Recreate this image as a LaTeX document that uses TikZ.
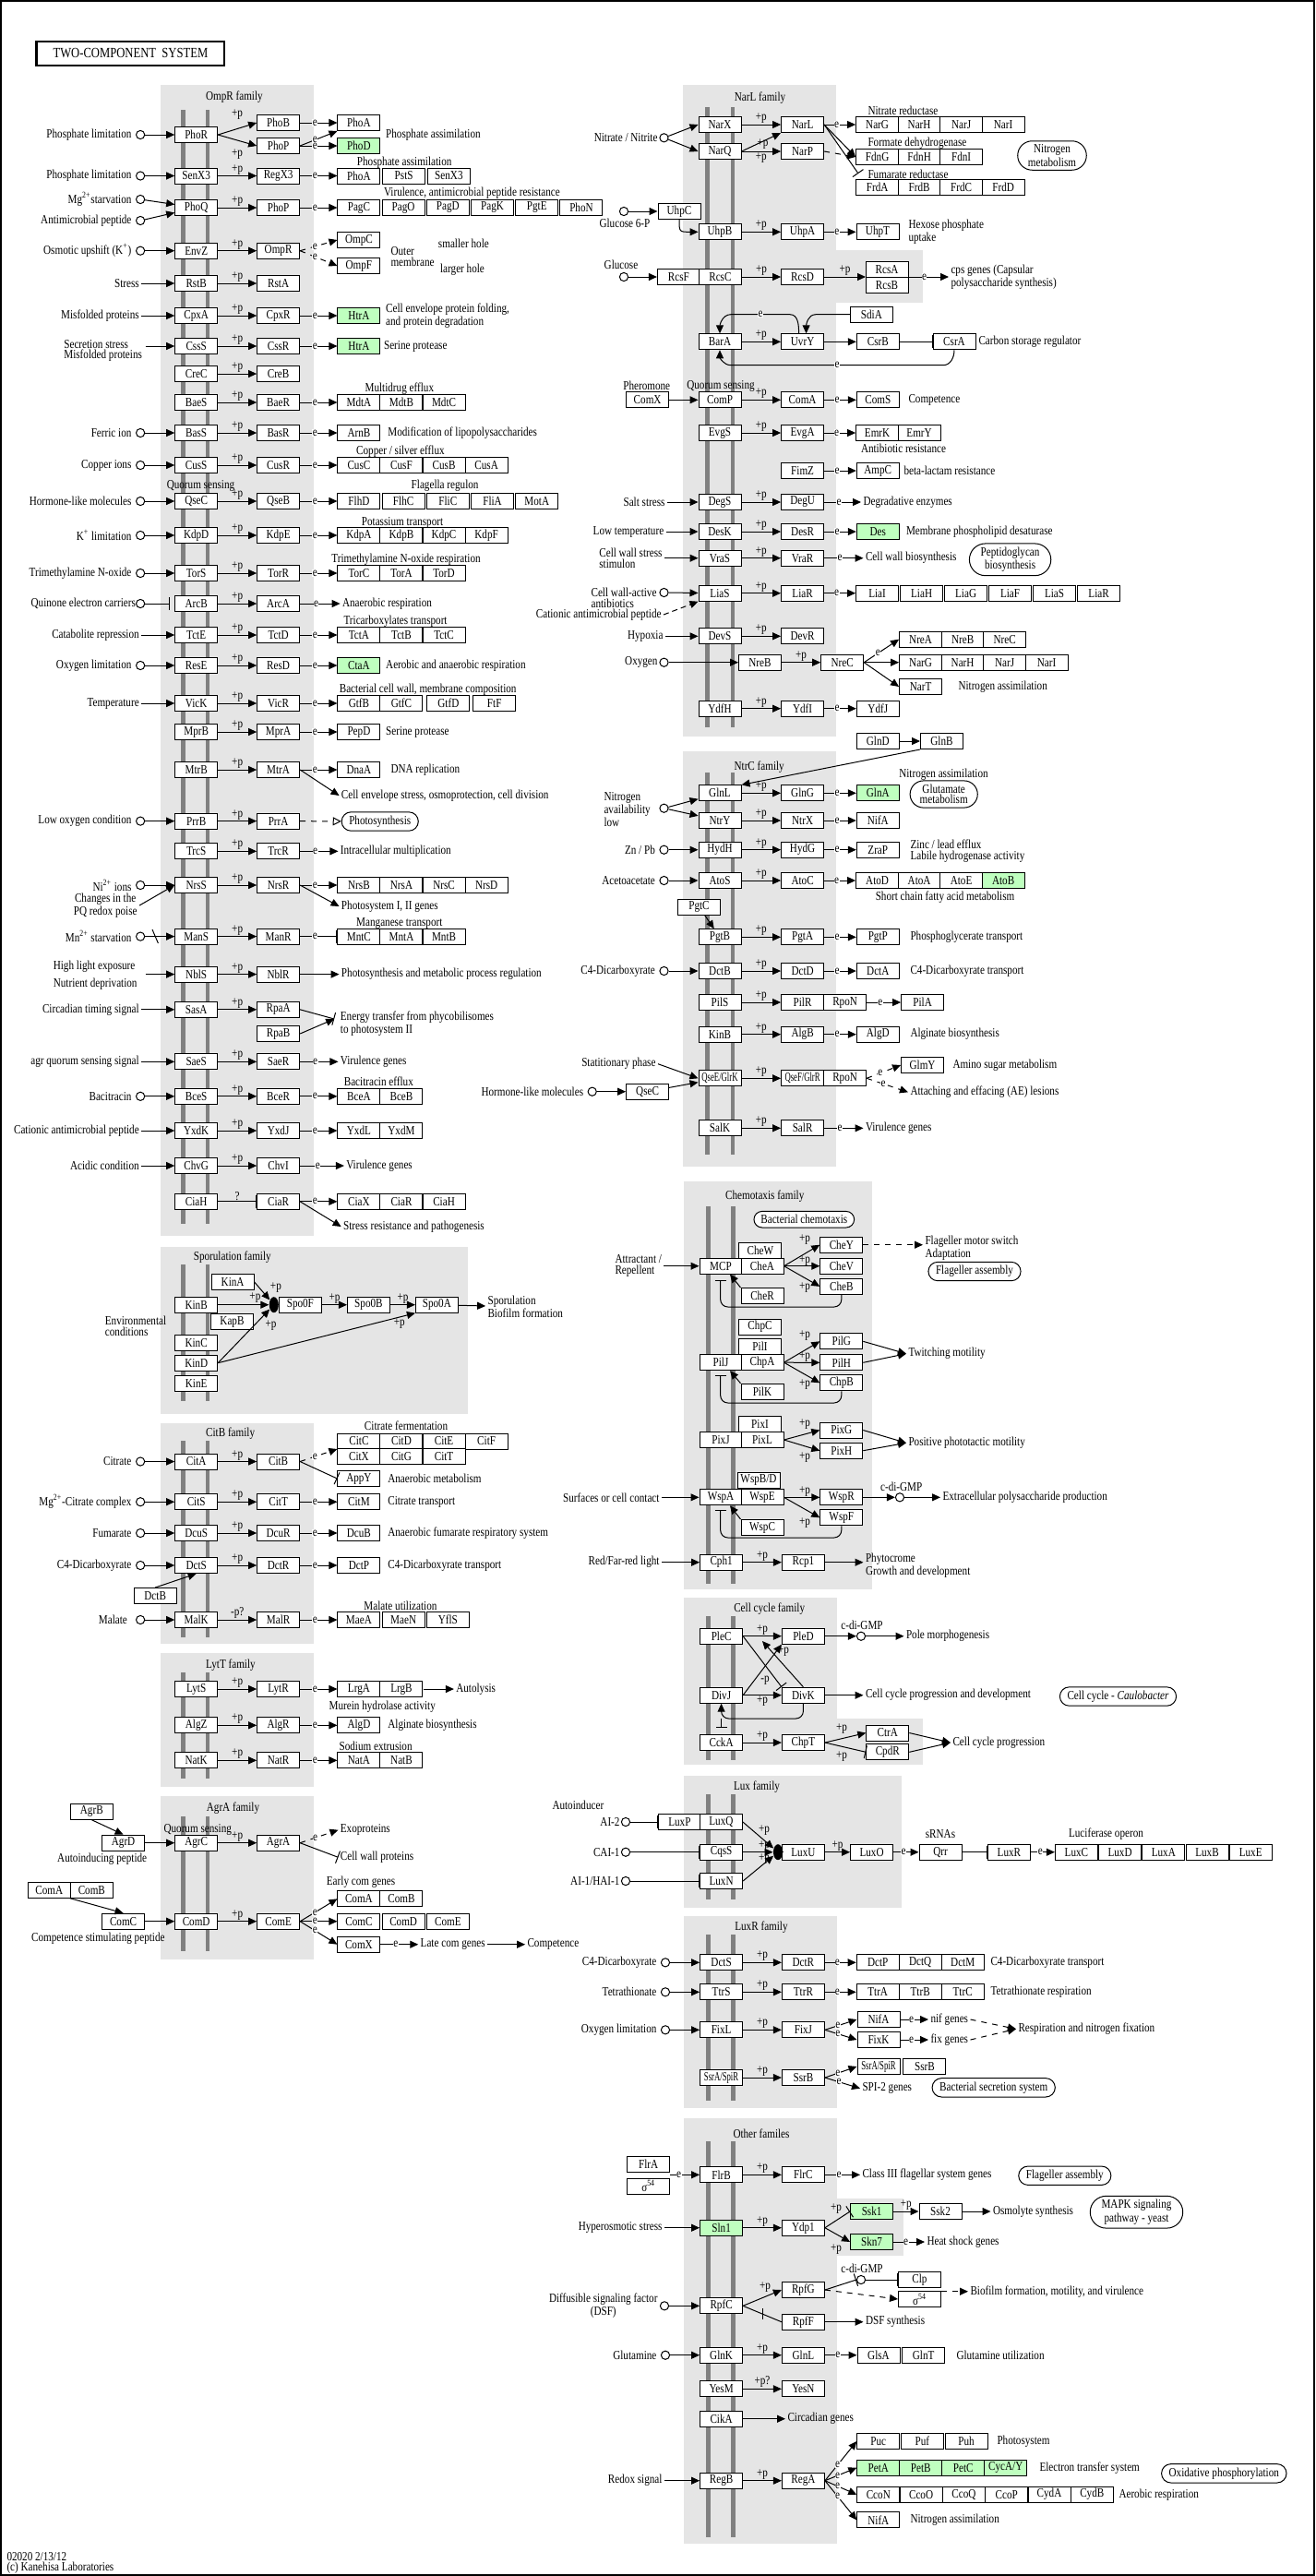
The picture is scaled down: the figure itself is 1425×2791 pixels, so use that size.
\documentclass[tikz,border=0pt]{standalone}
\usepackage{fontspec}
\setmainfont{Liberation Serif}
\newfontfamily\kf[FakeStretch=0.82]{Liberation Serif}
\usetikzlibrary{arrows.meta,shapes.misc,shapes.geometric}
\definecolor{kgreen}{HTML}{BFFFBF}
\definecolor{kpanel}{HTML}{E5E5E5}
\definecolor{kbar}{HTML}{808080}
\newcommand\gf{\kf\fontsize{6.8}{5.8}\selectfont}
\newcommand\cf[1]{\scalebox{0.78}[1]{#1}}
\newcommand\B[4][gene]{\node[#1] (#2) at (#3) {#4};}
\newcommand\GR[6][gene]{\foreach \g [count=\i] in {#6} {\node[#1] (#2\i) at ({#3+22+(\i-1)*#5},#4) {\g};}}
\newcommand\Ep[2]{\draw[act] (#1) -- node[pl]{+p} (#2);}
\newcommand\Ee[2]{\draw[act] (#1) -- node[el]{e} (#2);}
\newcommand\SC[5]{\node[sig] (#1) at (#2,#3) {};\node[lbl,anchor=east] (#1t) at ([xshift=-1pt]#1.west) {#4};\draw[act] (#1) -- (#5);}
\newcommand\ST[5]{\node[lbl,anchor=east] (#1) at (#2,#3) {#4};\draw[act] (#1) -- (#5);}
\newcommand\LT[4][west]{\node[lbl,anchor=#1] (#2) at (#3) {#4};}
\newcounter{pc}
\newcommand\PL[2][+p]{\stepcounter{pc}\node[plx] (pl\thepc) at (#2) {#1};}
\newcommand\bars[4]{\fill[kbar] (#1-2.25,#3) rectangle (#1+2.25,#4);\fill[kbar] (#2-2.25,#3) rectangle (#2+2.25,#4);}
\begin{document}
\begin{tikzpicture}[x=0.5pt,y=-0.5pt,line width=0.5pt,
 gene/.style={draw,fill=white,minimum width=23pt,minimum height=8.5pt,inner sep=0pt,font=\gf},
 grn/.style={gene,fill=kgreen},
 sig/.style={circle,draw,fill=white,minimum size=4.6pt,inner sep=0pt},
 lbl/.style={inner sep=1pt,font=\gf,align=left},
 mapbox/.style={draw,rounded rectangle,fill=white,font=\gf,align=center,inner xsep=3pt,inner ysep=2pt},
 act/.style={-{Triangle[length=4.5pt,width=4pt]}},
 inh/.style={-{Bar[width=7pt]}},
 pl/.style={font=\gf,inner sep=0.5pt,above},
 plx/.style={font=\gf,inner sep=0pt},
 el/.style={font=\gf,fill=white,inner sep=0.2pt,pos=0.4},
 jn/.style={ellipse,fill=black,minimum width=5pt,minimum height=8.5pt,inner sep=0pt}]
\useasboundingbox (0,0) rectangle (1425,2791);
\fill[white] (0,0) rectangle (1425,2791);
\draw[line width=1.2pt] (1,1) rectangle (1424,2790);
% ---------- right panels ----------
\fill[kpanel] (740,92) rectangle (906,798);
\fill[kpanel] (905,271) rectangle (1000,328);
\fill[kpanel] (740,814) rectangle (906,1263.7);
\fill[kpanel] (741,1280) rectangle (944.7,1722.3);
\fill[kpanel] (741,1731) rectangle (906.6,1911.7);
\fill[kpanel] (905,1862.3) rectangle (1000.4,1911.7);
\fill[kpanel] (741,1924) rectangle (976.7,2066.7);
\fill[kpanel] (741,2075.7) rectangle (906.6,2284.3);
\fill[kpanel] (741,2295) rectangle (906.6,2755.7);
\fill[kpanel] (905,2382.3) rectangle (979.4,2444);
\bars{766.4}{794}{116}{788}
\bars{766.4}{794}{837}{1250.7}
\bars{767.5}{794.5}{1307}{1715.7}
\bars{767.5}{794.5}{1751}{1906.7}
\bars{767.5}{794.5}{1944.3}{2058.3}
\bars{767.5}{794.5}{2096}{2276}
\bars{767.5}{794.5}{2320}{2749}
\LT[center]{f6}{823.5,106}{NarL family}
\LT[center]{f7}{822.7,831}{NtrC family}
\LT[center]{f8}{828.8,1295.7}{Chemotaxis family}
\LT[center]{f9}{833.7,1742.7}{Cell cycle family}
\LT[center]{f10}{820,1935.7}{Lux family}
\LT[center]{f11}{825,2087.7}{LuxR family}
\LT[center]{f12}{825,2312}{Other familes}
\LT{l49}{569,2106.7}{Competence}
% =================== LEFT COLUMN ===================
\begin{scope}[xscale=1.0714]
\fill[kpanel] (162,92) rectangle (317,1339);
\fill[kpanel] (162,1351) rectangle (473,1531.5);
\fill[kpanel] (162,1541.8) rectangle (317,1780.7);
\fill[kpanel] (162,1791) rectangle (317,1936);
\fill[kpanel] (162,1945.7) rectangle (317,2123.3);
\bars{185.3}{210}{119}{1326}
\bars{185.3}{210}{1370.3}{1518}
\bars{185.3}{210}{1560.8}{1774.3}
\bars{185.3}{210}{1812.3}{1926.7}
\bars{185.3}{210}{1968.3}{2114.3}
\LT[center]{f1}{237,105.5}{OmpR family}
\LT[center]{f2}{235,1362}{Sporulation family}
\LT[center]{f3}{233,1552.9}{CitB family}
\LT[center]{f4}{233.3,1804}{LytT family}
\LT[center]{f5}{235.7,1959}{AgrA family}
\node[draw,line width=1.2pt,minimum width=101.8pt,minimum height=13pt,inner sep=0pt,font={\kf\fontsize{7.7}{8}\selectfont}] (title) at (132,58) {TWO-COMPONENT\ \ SYSTEM};
% ---------- OmpR family ----------
\B{phor}{198.5,146}{PhoR}\B{phob}{281.5,133}{PhoB}\B{phop}{281.5,158}{PhoP}
\draw[act] (phor.east) -- (phob.west);\draw[act] (phor.east) -- (phop.west);
\PL{240,124}\PL{240,167}
\B{phoa}{363,133}{PhoA}\B[grn]{phod}{363,158}{PhoD}
\Ee{phob}{phoa}\draw[act] (phop.east) -- node[el]{e} (phoa.south west);\Ee{phop}{phod}
\LT{l1}{388,146}{Phosphate assimilation}
\SC{c1}{142}{146}{Phosphate limitation}{phor}
\B{senx3}{198.5,190.5}{SenX3}\B{regx3}{281.5,190.5}{RegX3}\Ep{senx3}{regx3}
\GR{ga}{341}{190.5}{45.5}{PhoA,PstS,SenX3}\Ee{regx3}{ga1}
\LT[center]{l2}{409,176}{Phosphate assimilation}
\SC{c2}{142}{190.5}{Phosphate limitation}{senx3}
\B{phoq}{198.5,225}{PhoQ}\B{phop2}{281.5,225}{PhoP}\Ep{phoq}{phop2}
\GR{gb}{341}{225}{45}{PagC,PagO,PagD,PagK,PgtE,PhoN}\Ee{phop2}{gb1}
\LT{l3}{386,209.5}{Virulence, antimicrobial peptide resistance}
\SC{c3}{142}{216}{Mg\textsuperscript{2+}starvation}{phoq}
\SC{c4}{142}{239}{Antimicrobial peptide}{phoq}
\B{envz}{198.5,271.7}{EnvZ}\B{ompr}{281.5,271.7}{OmpR}\Ep{envz}{ompr}
\B{ompc}{363,260}{OmpC}\B{ompf}{363,288}{OmpF}
\draw[act,dashed] (ompr.east) -- node[el]{e} (ompc.west);
\draw[act,dashed] (ompr.east) -- node[el]{e} (ompf.west);
\LT{l4}{393,278}{Outer\\membrane}\LT{l5}{441,264}{smaller hole}\LT{l6}{443,292}{larger hole}
\SC{c5}{142}{271.7}{Osmotic upshift (K\textsuperscript{+})}{envz}
\B{rstb}{198.5,307}{RstB}\B{rsta}{281.5,307}{RstA}\Ep{rstb}{rsta}
\ST{s1}{143}{307}{Stress}{rstb}
\B{cpxa}{198.5,342}{CpxA}\B{cpxr}{281.5,342}{CpxR}\Ep{cpxa}{cpxr}
\B[grn]{htra1}{363,342}{HtrA}\Ee{cpxr}{htra1}
\LT{l7}{388,342}{Cell envelope protein folding,\\and protein degradation}
\ST{s2}{143}{342}{Misfolded proteins}{cpxa}
\B{csss}{198.5,375}{CssS}\B{cssr}{281.5,375}{CssR}\Ep{csss}{cssr}
\B[grn]{htra2}{363,375}{HtrA}\Ee{cssr}{htra2}
\LT{l8}{386,375}{Serine protease}
\LT[east]{s3}{146,380}{Secretion stress\\Misfolded proteins}
\coordinate (s3o) at (147,375);\draw[act] (s3o) -- (csss);
\B{crec}{198.5,405}{CreC}\B{creb}{281.5,405}{CreB}\Ep{crec}{creb}
\B{baes}{198.5,436}{BaeS}\B{baer}{281.5,436}{BaeR}\Ep{baes}{baer}
\GR{gc}{341}{436}{43}{MdtA,MdtB,MdtC}\Ee{baer}{gc1}
\LT[center]{l9}{404,421}{Multidrug efflux}
\B{bass}{198.5,469}{BasS}\B{basr}{281.5,469}{BasR}\Ep{bass}{basr}
\B{arnb}{363,469}{ArnB}\Ee{basr}{arnb}
\LT{l10}{390,469}{Modification of lipopolysaccharides}
\SC{c6}{142}{469}{Ferric ion}{bass}
\B{cuss}{198.5,504}{CusS}\B{cusr}{281.5,504}{CusR}\Ep{cuss}{cusr}
\GR{gd}{341}{504}{43}{CusC,CusF,CusB,CusA}\Ee{cusr}{gd1}
\LT[center]{l11}{405,489}{Copper / silver efflux}
\SC{c7}{142}{504}{Copper ions}{cuss}
\B{qsec}{198.5,543}{QseC}\B{qseb}{281.5,543}{QseB}\Ep{qsec}{qseb}
\GR{ge}{341}{543}{45}{FlhD,FlhC,FliC,FliA,MotA}\Ee{qseb}{ge1}
\LT[center]{l12}{450,526.6}{Flagella regulon}
\LT[center]{l13}{203,526.6}{Quorum sensing}
\SC{c8}{142}{543}{Hormone-like molecules}{qsec}
\B{kdpd}{198.5,580}{KdpD}\B{kdpe}{281.5,580}{KdpE}\Ep{kdpd}{kdpe}
\GR{gf}{341}{580}{43}{KdpA,KdpB,KdpC,KdpF}\Ee{kdpe}{gf1}
\LT[center]{l14}{407,566}{Potassium transport}
\SC{c9}{142}{580}{K\textsuperscript{+} limitation}{kdpd}
\B{tors}{198.5,621}{TorS}\B{torr}{281.5,621}{TorR}\Ep{tors}{torr}
\GR{gg}{341}{621}{43}{TorC,TorA,TorD}\Ee{torr}{gg1}
\LT[center]{l15}{410.7,605.8}{Trimethylamine N-oxide respiration}
\SC{c10}{142}{621}{Trimethylamine N-oxide}{tors}
\B{arcb}{198.5,654}{ArcB}\B{arca}{281.5,654}{ArcA}\Ep{arcb}{arca}
\LT{l16}{344,654}{Anaerobic respiration}\Ee{arca}{l16}
\node[sig] (c11) at (142,654) {};\LT[east]{c11t}{139.5,654}{Quinone electron carriers}
\draw[inh,shorten >=2.5pt] (c11) -- (arcb);
\B{tcte}{198.5,688}{TctE}\B{tctd}{281.5,688}{TctD}\Ep{tcte}{tctd}
\GR{gh}{341}{688}{43}{TctA,TctB,TctC}\Ee{tctd}{gh1}
\LT[center]{l17}{400,673}{Tricarboxylates transport}
\ST{s4}{143}{688}{Catabolite repression}{tcte}
\B{rese}{198.5,721}{ResE}\B{resd}{281.5,721}{ResD}\Ep{rese}{resd}
\B[grn]{ctaa}{363,721}{CtaA}\Ee{resd}{ctaa}
\LT{l18}{388,721}{Aerobic and anaerobic respiration}
\SC{c12}{142}{721}{Oxygen limitation}{rese}
\B{vick}{198.5,762}{VicK}\B{vicr}{281.5,762}{VicR}\Ep{vick}{vicr}
\GR{gi}{341}{762}{43}{GtfB,GtfC}\B{gtfd}{453.5,762}{GtfD}\B{ftf}{500,762}{FtF}\Ee{vicr}{gi1}
\LT{l19}{341,747}{Bacterial cell wall, membrane composition}
\ST{s5}{143}{762}{Temperature}{vick}
\B{mprb}{198.5,793}{MprB}\B{mpra}{281.5,793}{MprA}\Ep{mprb}{mpra}
\B{pepd}{363,793}{PepD}\Ee{mpra}{pepd}\LT{l20}{388,793}{Serine protease}
\B{mtrb}{198.5,834}{MtrB}\B{mtra}{281.5,834}{MtrA}\Ep{mtrb}{mtra}
\B{dnaa}{363,834}{DnaA}\Ee{mtra}{dnaa}\LT{l21}{393,834}{DNA replication}
\LT{l22}{343,862}{Cell envelope stress, osmoprotection, cell division}\draw[act] (mtra.east) -- (l22.west);
\B{prrb}{198.5,889.6}{PrrB}\B{prra}{281.5,889.6}{PrrA}\Ep{prrb}{prra}
\node[mapbox] (m1) at (384.3,890) {Photosynthesis};
\draw[dashed,-{Triangle[open,length=4.5pt,width=4.5pt]}] (prra) -- (m1);
\SC{c13}{142}{889.6}{Low oxygen condition}{prrb}
\B{trcs}{198.5,922.3}{TrcS}\B{trcr}{281.5,922.3}{TrcR}\Ep{trcs}{trcr}
\LT{l23}{342,922.3}{Intracellular multiplication}\Ee{trcr}{l23}
\B{nrss}{198.5,959}{NrsS}\B{nrsr}{281.5,959}{NrsR}\Ep{nrss}{nrsr}
\GR{gj}{341}{959}{43}{NrsB,NrsA,NrsC,NrsD}\Ee{nrsr}{gj1}
\LT{l24}{343,982}{Photosystem I, II genes}\draw[act] (nrsr.east) -- (l24.west);
\SC{c14}{142}{959}{Ni\textsuperscript{2+} ions}{nrss}
\node[lbl,anchor=east,align=center] (s6) at (141,981) {Changes in the\\PQ redox poise};\draw[act] (s6.east) -- (nrss.west);
\B{mans}{198.5,1014.6}{ManS}\B{manr}{281.5,1014.6}{ManR}\Ep{mans}{manr}
\GR{gk}{341}{1014.6}{43}{MntC,MntA,MntB}\draw[inh] (manr) -- node[el]{e} (gk1);
\LT[center]{l25}{404,1000}{Manganese transport}
\SC{c15}{142}{1014.6}{Mn\textsuperscript{2+} starvation}{mans}
\draw (154,1007) -- (160,1022);
\B{nbls}{198.5,1055.6}{NblS}\B{nblr}{281.5,1055.6}{NblR}\Ep{nbls}{nblr}
\LT{l26}{343,1055.6}{Photosynthesis and metabolic process regulation}\draw[act] (nblr) -- (l26);
\node[lbl,anchor=east] (s7) at (141,1057) {High light exposure\\[2.5pt]Nutrient deprivation};
\coordinate (s7o) at (147,1055.6);\draw[act] (s7o) -- (nbls);
\B{sasa}{198.5,1093.8}{SasA}\B{rpaa}{281.5,1093.8}{RpaA}\Ep{sasa}{rpaa}
\B{rpab}{281.5,1120}{RpaB}
\ST{s8}{143}{1093.8}{Circadian timing signal}{sasa}
\LT{l27}{342,1109}{Energy transfer from phycobilisomes\\to photosystem II}
\coordinate (et) at (338,1104);\draw[inh] (rpaa.east) -- (et);\draw[act] (rpab.east) -- (et);
\B{saes}{198.5,1150.3}{SaeS}\B{saer}{281.5,1150.3}{SaeR}\Ep{saes}{saer}
\LT{l28}{342,1150.3}{Virulence genes}\Ee{saer}{l28}
\ST{s9}{143}{1150.3}{agr quorum sensing signal}{saes}
\B{bces}{198.5,1187.8}{BceS}\B{bcer}{281.5,1187.8}{BceR}\Ep{bces}{bcer}
\GR{gl}{341}{1187.8}{43}{BceA,BceB}\Ee{bcer}{gl1}
\LT[center]{l29}{383,1171.7}{Bacitracin efflux}
\SC{c16}{142}{1187.8}{Bacitracin}{bces}
\B{yxdk}{198.5,1225}{YxdK}\B{yxdj}{281.5,1225}{YxdJ}\Ep{yxdk}{yxdj}
\GR{gm}{341}{1225}{43}{YxdL,YxdM}\Ee{yxdj}{gm1}
\ST{s10}{143}{1225}{Cationic antimicrobial peptide}{yxdk}
\B{chvg}{198.5,1263}{ChvG}\B{chvi}{281.5,1263}{ChvI}\Ep{chvg}{chvi}
\LT{l30}{348,1263}{Virulence genes}\Ee{chvi}{l30}
\ST{s11}{143}{1263}{Acidic condition}{chvg}
\B{ciah}{198.5,1301.8}{CiaH}\B{ciar}{281.5,1301.8}{CiaR}
\draw[inh] (ciah) -- node[pl]{?} (ciar);
\GR{gn}{341}{1301.8}{43}{CiaX,CiaR,CiaH}\Ee{ciar}{gn1}
\LT{l31}{345,1329}{Stress resistance and pathogenesis}\draw[act] (ciar.east) -- (l31.west);
% ---------- Sporulation ----------
\B{kina}{235.3,1389}{KinA}\B{kinb}{198.5,1413.7}{KinB}\B{kapb}{234.7,1432}{KapB}
\B{kinc}{198.5,1455}{KinC}\B{kind}{198.5,1476.7}{KinD}\B{kine}{198.5,1498.8}{KinE}
\node[jn] (jn1) at (277,1413.7) {};
\B{spo0f}{303.7,1413.7}{Spo0F}\B{spo0b}{372.8,1413.7}{Spo0B}\B{spo0a}{441.8,1413.7}{Spo0A}
\draw[act] (kina.east) -- (jn1);\PL{279,1395}
\draw[act] (kinb) -- (jn1);\PL{258,1406}
\draw[act] (kind.east) -- (jn1);\PL{274,1436}
\draw (jn1) -- (spo0f);
\Ep{spo0f}{spo0b}\Ep{spo0b}{spo0a}
\draw[act] (kind.east) -- (spo0a.south west);\PL{404,1434}
\LT{l50}{491,1416}{Sporulation\\Biofilm formation}\draw[act] (spo0a) -- (l50);
\LT{l51}{104,1437}{Environmental\\conditions}
% ---------- CitB ----------
\B{cita}{198.5,1583.5}{CitA}\B{citb}{281.5,1583.5}{CitB}\Ep{cita}{citb}
\GR{go}{341}{1561.5}{43}{CitC,CitD,CitE,CitF}\GR{gp}{341}{1578}{43}{CitX,CitG,CitT}
\coordinate (citin) at (341,1570);\draw[act,dashed] (citb.east) -- node[el]{e} (citin);
\B{appy}{363,1602}{AppY}\draw[inh] (citb.east) -- (appy.west);
\LT{l32}{390,1602}{Anaerobic metabolism}
\LT[center]{l33}{410.7,1544.6}{Citrate fermentation}
\SC{c17}{142}{1583.5}{Citrate}{cita}
\B{cits}{198.5,1627.2}{CitS}\B{citt}{281.5,1627.2}{CitT}\Ep{cits}{citt}
\B{citm}{363,1627.2}{CitM}\Ee{citt}{citm}\LT{l34}{390,1627.2}{Citrate transport}
\SC{c18}{142}{1627.2}{Mg\textsuperscript{2+}-Citrate complex}{cits}
\B{dcus}{198.5,1661}{DcuS}\B{dcur}{281.5,1661}{DcuR}\Ep{dcus}{dcur}
\B{dcub}{363,1661}{DcuB}\Ee{dcur}{dcub}\LT{l35}{390,1661}{Anaerobic fumarate respiratory system}
\SC{c19}{142}{1661}{Fumarate}{dcus}
\B{dcts}{198.5,1696}{DctS}\B{dctr}{281.5,1696}{DctR}\Ep{dcts}{dctr}
\B{dctp}{363,1696}{DctP}\Ee{dctr}{dctp}\LT{l36}{390,1696}{C4-Dicarboxyrate transport}
\SC{c20}{142}{1696}{C4-Dicarboxyrate}{dcts}
\B{dctb}{157,1729}{DctB}\draw[act] (dctb.north) -- (dcts.south);
\B{malk}{198.5,1755}{MalK}\B{malr}{281.5,1755}{MalR}\draw[act] (malk) -- node[pl]{-p?} (malr);
\GR{gq}{341}{1755}{45}{MaeA,MaeN,YflS}\Ee{malr}{gq1}
\LT[center]{l37}{405,1740}{Malate utilization}
\node[sig] (c21) at (142,1755) {};\LT[east]{c21t}{131,1755}{Malate}\draw[act] (c21) -- (malk);
% ---------- LytT ----------
\B{lyts}{198.5,1830}{LytS}\B{lytr}{281.5,1830}{LytR}\Ep{lyts}{lytr}
\GR{gr}{341}{1830}{43}{LrgA,LrgB}\Ee{lytr}{gr1}
\LT{l38}{459,1830}{Autolysis}\draw[act] (gr2) -- (l38);
\LT[center]{l39}{386.7,1849}{Murein hydrolase activity}
\B{algz}{198.5,1869.3}{AlgZ}\B{algr}{281.5,1869.3}{AlgR}\Ep{algz}{algr}
\B{algd}{363,1869.3}{AlgD}\Ee{algr}{algd}\LT{l40}{390,1869.3}{Alginate biosynthesis}
\B{natk}{198.5,1907.3}{NatK}\B{natr}{281.5,1907.3}{NatR}\Ep{natk}{natr}
\GR{gs}{341}{1907.3}{43}{NatA,NatB}\Ee{natr}{gs1}
\LT[center]{l41}{380,1891.7}{Sodium extrusion}
% ---------- AgrA ----------
\B{agrb}{92.7,1962.7}{AgrB}\B{agrd}{124.7,1996.7}{AgrD}\draw[act] (agrb.south) -- (agrd.north);
\B{agrc}{198.5,1996.7}{AgrC}\B{agra}{281.5,1996.7}{AgrA}\Ep{agrc}{agra}
\draw[act] (agrd) -- (agrc);
\LT[center]{l42}{103.3,2014.3}{Autoinducing peptide}
\LT[center]{l43}{200,1982}{Quorum sensing}
\LT{l44}{342,1982.7}{Exoproteins}\draw[act,dashed] (agra.east) -- node[el]{e} (l44.west);
\LT{l45}{342,2012.3}{Cell wall proteins}\draw[inh] (agra.east) -- (l45.west);
\B{comal}{49.7,2047.7}{ComA}\B{combl}{92.7,2047.7}{ComB}
\B{comc}{124.7,2081.7}{ComC}\draw[act] (combl.south west) -- (comc.north);
\B{comd}{198.5,2081.7}{ComD}\B{come}{281.5,2081.7}{ComE}\Ep{comd}{come}\draw[act] (comc) -- (comd);
\LT[center]{l46}{99.3,2100}{Competence stimulating peptide}
\LT{l47}{328,2039}{Early com genes}
\GR{gt}{341}{2057.3}{43}{ComA,ComB}\GR{gu}{341}{2081.7}{45}{ComC,ComD,ComE}\B{comxg}{363,2106.7}{ComX}
\draw[act] (come.east) -- node[el]{e} (gt1.west);\Ee{come}{gu1}\draw[act] (come.east) -- node[el]{e} (comxg.west);
\LT{l48}{423,2106.7}{Late com genes}\Ee{comxg}{l48}
\draw[act] (l48) -- (l49);
\end{scope}
% =================== RIGHT COLUMN ===================
% ---------- NarL family ----------
\B{narx}{780,135}{NarX}\B{narq}{780,164}{NarQ}\B{narl}{869.6,135}{NarL}\B{narp}{869.6,164}{NarP}
\node[sig] (cn1) at (719.5,149.3) {};\LT[east]{cn1t}{715,149.3}{Nitrate / Nitrite}
\draw[act] (cn1) -- (narx.west);\draw[act] (cn1) -- (narq.west);
\Ep{narx}{narl}
\draw[act] (narq.east) -- (narl.south west);\PL{826.6,156}
\draw[act] (narq) -- node[pl,below]{+p} (narp);
\GR{nr}{928.6}{135}{45.5}{NarG,NarH,NarJ,NarI}
\GR{fd}{928.6}{170}{45.5}{FdnG,FdnH,FdnI}
\GR{fr}{928.6}{203}{45.5}{FrdA,FrdB,FrdC,FrdD}
\LT{lnr}{938,120}{Nitrate reductase}\LT{lfd}{938,155}{Formate dehydrogenase}\LT{lfr}{938,189}{Fumarate reductase}
\Ee{narl}{nr1}
\draw[act] (narl.east) -- (fd1.west);
\coordinate (frin) at (930,188);\draw[inh] (narl.east) -- (frin);
\draw[act,dashed] (narp.east) -- (fd1.west);
\node[mapbox] (nmet) at (1140,168.5) {Nitrogen\\metabolism};
\B{uhpc}{736,229}{UhpC}\node[sig] (cg6) at (676,229) {};\LT[north]{cg6t}{677,235}{Glucose 6-P}
\draw[act] (cg6) -- (uhpc);
\B{uhpb}{780,251.3}{UhpB}\B{uhpa}{869.6,251.3}{UhpA}\B{uhpt}{951,251.3}{UhpT}
\draw[act] (uhpc.south) .. controls (736,251.3) .. (uhpb.west);
\Ep{uhpb}{uhpa}\Ee{uhpa}{uhpt}\LT{luhp}{982,251.3}{Hexose phosphate\\uptake}
\B{rcsf}{735.4,300}{RcsF}\B{rcsc}{780.4,300}{RcsC}
\node[sig] (cgl) at (676,300) {};\LT[south]{cglt}{673,294}{Glucose}\draw[act] (cgl) -- (rcsf);
\B{rcsd}{869.6,300}{RcsD}\Ep{rcsc}{rcsd}
\B{rcsa}{961,291.7}{RcsA}\B{rcsb}{961,308.7}{RcsB}
\coordinate (rcsin) at (938,300);\draw[act] (rcsd) -- node[pl]{+p} (rcsin);
\LT{lcps}{1028,300}{cps genes (Capsular\\polysaccharide synthesis)}
\coordinate (rcsout) at (984,300);\draw[act] (rcsout) -- node[el]{e} (lcps);
\B{bara}{780,370.3}{BarA}\B{uvry}{869.6,370.3}{UvrY}\B{csrb}{951.3,370.3}{CsrB}\B{csra}{1034,370.3}{CsrA}\B{sdia}{944.4,340.7}{SdiA}
\Ep{bara}{uvry}\draw[act] (uvry) -- (csrb);\draw[inh] (csrb) -- (csra);
\LT{lcsr}{1058,370.3}{Carbon storage regulator}
\draw[act] (sdia.west) -- (884,340.7) to[out=180,in=90] ([xshift=2pt]uvry.north);
\draw[act] ([xshift=-2pt]uvry.north) to[out=90,in=0] (856,340.7) -- node[el,pos=0.5]{e} (792,340.7) to[out=180,in=90] (bara.north);
\draw[act] (csra.south) to[out=-90,in=0] (1022,395.7) -- node[el,pos=0.5]{e} (792,395.7) to[out=180,in=-90] (bara.south);
\B{comx}{701.6,433.3}{ComX}\LT[center]{lpher}{700.7,418}{Pheromone}
\B{comp}{780,433.3}{ComP}\LT[center]{lqs2}{781,418}{Quorum sensing}
\B{coma}{869.6,433.3}{ComA}\B{coms}{951.3,433.3}{ComS}\LT{lcomp}{982,433.3}{Competence}
\draw[act] (comx) -- (comp);\Ep{comp}{coma}\Ee{coma}{coms}
\B{evgs}{780,469}{EvgS}\B{evga}{869.6,469}{EvgA}\Ep{evgs}{evga}
\GR{emr}{928.6}{469}{45.5}{EmrK,EmrY}\Ee{evga}{emr1}
\LT[center]{lab}{979,486}{Antibiotic resistance}
\B{fimz}{869.6,510}{FimZ}\B{ampc}{951.3,510}{AmpC}\Ee{fimz}{ampc}\LT{lbl2}{977,510}{beta-lactam resistance}
\B{degs}{780,544}{DegS}\B{degu}{869.6,544}{DegU}\Ep{degs}{degu}
\ST{ssalt}{723}{544}{Salt stress}{degs}
\LT{ldeg}{933,544}{Degradative enzymes}\Ee{degu}{ldeg}
\B{desk}{780,576}{DesK}\B{desr}{869.6,576}{DesR}\B[grn]{des}{951.3,576}{Des}\Ep{desk}{desr}
\ST{slt}{721.7}{576}{Low temperature}{desk}\Ee{desr}{des}
\LT{ldes}{979.5,576}{Membrane phospholipid desaturase}
\B{vras}{780,604.7}{VraS}\B{vrar}{869.6,604.7}{VraR}\Ep{vras}{vrar}
\ST{scw}{720}{604.7}{Cell wall stress\\stimulon}{vras}
\LT{lcwb}{935.5,604.7}{Cell wall biosynthesis}\Ee{vrar}{lcwb}
\node[mapbox] (mpg) at (1094.6,606.3) {Peptidoglycan\\biosynthesis};
\B{lias}{780,642.7}{LiaS}\B{liar}{869.6,642.7}{LiaR}\Ep{lias}{liar}
\node[sig] (clia) at (719.5,642) {};\LT[north east]{cliat}{714,635}{Cell wall-active\\antibiotics}\draw[act] (clia) -- (lias);
\LT[east]{lcap}{719,666}{Cationic antimicrobial peptide}\draw[act,densely dashed] (lcap.east) -- (lias.south west);
\GR{lia}{928.6}{642.7}{48}{LiaI,LiaH,LiaG,LiaF,LiaS,LiaR}\Ee{liar}{lia1}
\B{devs}{780,689.3}{DevS}\B{devr}{869.6,689.3}{DevR}\Ep{devs}{devr}
\ST{shyp}{721}{689.3}{Hypoxia}{devs}
\B{nreb}{823.5,717.7}{NreB}\B{nrec}{912.7,717.7}{NreC}
\node[sig] (cox) at (719.5,717.7) {};\LT[east]{coxt}{715,717.7}{Oxygen}\draw[act] (cox) -- (nreb);\Ep{nreb}{nrec}
\GR{nre}{975.6}{692.7}{45.5}{NreA,NreB,NreC}\GR{nrg}{975.6}{717.7}{45.5}{NarG,NarH,NarJ,NarI}
\B{nart}{997.6,744}{NarT}\LT{lna}{1036,744}{Nitrogen assimilation}
\draw[act] (nrec.east) -- node[el]{e} (nre1.west);\draw[act] (nrec) -- (nrg1);\draw[act] (nrec.east) -- (nart.west);
\B{ydfh}{780,767.7}{YdfH}\B{ydfi}{869.6,767.7}{YdfI}\B{ydfj}{951.3,767.7}{YdfJ}\Ep{ydfh}{ydfi}\Ee{ydfi}{ydfj}
% ---------- NtrC family ----------
\B{glnd}{951.3,803}{GlnD}\B{glnb}{1020.5,803}{GlnB}\draw[act] (glnd) -- (glnb);
\B{glnl}{780,859.3}{GlnL}\B{glng}{869.6,859.3}{GlnG}\B[grn]{glna}{951.3,859.3}{GlnA}
\draw[act] (glnb.south west) -- (glnl.north east);
\Ep{glnl}{glng}\Ee{glng}{glna}
\LT[center]{lna2}{1022.5,839}{Nitrogen assimilation}
\node[mapbox] (mglu) at (1022.7,860.5) {Glutamate\\metabolism};
\B{ntry}{780,889}{NtrY}\B{ntrx}{869.6,889}{NtrX}\B{nifa1}{951.3,889}{NifA}\Ep{ntry}{ntrx}\Ee{ntrx}{nifa1}
\node[sig] (cnit) at (719.5,875.7) {};\LT{cnitt}{652,877}{Nitrogen\\availability\\low}
\draw[act] (cnit) -- (glnl);\draw[act] (cnit) -- (ntry);
\B{hydh}{780,920.7}{HydH}\SC{czn}{719.5}{920.7}{Zn / Pb}{hydh}
\B{hydg}{869.6,920.7}{HydG}\B{zrap}{951.3,920.7}{ZraP}\Ep{hydh}{hydg}\Ee{hydg}{zrap}
\LT{lzn}{984,922}{Zinc / lead efflux\\Labile hydrogenase activity}
\B{atos}{780,954}{AtoS}\SC{cac}{719.5}{954}{Acetoacetate}{atos}
\B{atoc}{869.6,954}{AtoC}\Ep{atos}{atoc}
\GR{ato}{928.6}{954}{45.5}{AtoD,AtoA,AtoE}\B[grn]{ato4}{1087.1,954}{AtoB}\Ee{atoc}{ato1}
\LT[center]{lsc}{1024,971.7}{Short chain fatty acid metabolism}
\B{pgtc}{757.5,982.7}{PgtC}\B{pgtb}{780,1015.3}{PgtB}\draw[act] (pgtc) -- (pgtb);
\B{pgta}{869.6,1015.3}{PgtA}\B{pgtp}{951.3,1015.3}{PgtP}\Ep{pgtb}{pgta}\Ee{pgta}{pgtp}
\LT{lpg}{984,1015.3}{Phosphoglycerate transport}
\B{dctb2}{780,1052}{DctB}\SC{cc4}{719.5}{1052}{C4-Dicarboxyrate}{dctb2}
\B{dctd}{869.6,1052}{DctD}\B{dcta}{951.3,1052}{DctA}\Ep{dctb2}{dctd}\Ee{dctd}{dcta}
\LT{lc4}{984,1052}{C4-Dicarboxyrate transport}
\B{pils}{780,1086}{PilS}\B{pilr}{869.6,1086}{PilR}\B{rpon1}{915.6,1086}{RpoN}\B{pila}{999.6,1086}{PilA}
\Ep{pils}{pilr}\Ee{rpon1}{pila}
\B{kinb2}{780,1120.7}{KinB}\B{algb}{869.6,1120.7}{AlgB}\B{algd2}{951.3,1120.7}{AlgD}\Ep{kinb2}{algb}\Ee{algb}{algd2}
\LT{lalg2}{984,1120.7}{Alginate biosynthesis}
\B{qsee}{780,1168.3}{\cf{QseE/GlrK}}\B{qsef}{869.6,1168.3}{\cf{QseF/GlrR}}\B{rpon2}{915.6,1168.3}{RpoN}
\B{qsec2}{701.6,1182.7}{QseC}\SC{chl}{641.7}{1182.7}{Hormone-like molecules}{qsec2}
\draw[act] (qsec2) -- (qsee);
\LT[east]{lstat}{713,1152.7}{Statitionary phase}\draw[act] (lstat.east) -- (qsee.west);
\Ep{qsee}{qsef}
\B{glmy}{999.6,1154}{GlmY}\LT{lams}{1030,1154}{Amino sugar metabolism}
\LT{lae}{984,1183.3}{Attaching and effacing (AE) lesions}
\draw[act,dashed] (rpon2.east) -- node[el]{e} (glmy.west);
\draw[act,dashed] (rpon2.east) -- node[el]{e} (lae.west);
\B{salk}{780,1222.3}{SalK}\B{salr}{869.6,1222.3}{SalR}\Ep{salk}{salr}
\LT{lvir}{935.5,1222.3}{Virulence genes}\Ee{salr}{lvir}
% ---------- Chemotaxis ----------
\node[mapbox] (mbc) at (871.3,1321.2) {Bacterial chemotaxis};
\B{chew}{823.8,1355}{CheW}\B{mcp}{781,1371.7}{MCP}\B{chea}{826,1371.7}{CheA}\B{cher}{826,1404}{CheR}
\B{chey}{911.8,1348.7}{CheY}\B{chev}{911.8,1371.7}{CheV}\B{cheb}{911.8,1393.8}{CheB}
\LT{lattr}{664,1371.7}{Attractant /\\Repellent}\draw[act] (lattr) -- (mcp);
\draw[act] (chea.east) -- (chey.west);\draw[act] (chea.east) -- (chev.west);\draw[act] (chea.east) -- (cheb.west);
\PL{872,1343}\PL{872,1366}\PL{872,1395}
\LT{lfm}{1000,1352}{Flageller motor switch\\Adaptation}\draw[act,dashed] (chey) -- (lfm.west |- chey.east);
\node[mapbox] (mfa) at (1056,1377.5) {Flageller assembly};
\draw[act] (cher.north west) -- ([xshift=5pt]mcp.south);
\draw[-{Bar[width=6pt]},rounded corners=4pt] (cheb.south) -- (911.8,1416) -- (780.7,1416) -- (780.7,1387);
\B{chpc}{823.5,1437.7}{ChpC}\B{pili}{823.5,1459}{PilI}\B{pilj}{781,1476.2}{PilJ}\B{chpa}{826,1476.2}{ChpA}\B{pilk}{826,1507.7}{PilK}
\B{pilg}{911.8,1453.3}{PilG}\B{pilh}{911.8,1476.3}{PilH}\B{chpb}{911.8,1498.3}{ChpB}
\draw[act] (chpa.east) -- (pilg.west);\draw[act] (chpa.east) -- (pilh.west);\draw[act] (chpa.east) -- (chpb.west);
\PL{872,1447}\PL{872,1470}\PL{872,1500}
\LT{ltw}{982,1466.7}{Twitching motility}\draw[act] (pilg.east) -- (ltw.west);\draw[act] (pilh.east) -- (ltw.west);
\draw[act] (pilk.north west) -- ([xshift=5pt]pilj.south);
\draw[-{Bar[width=6pt]},rounded corners=4pt] (chpb.south) -- (911.8,1520) -- (780.7,1520) -- (780.7,1490);
\B{pixi}{823.5,1543.3}{PixI}\B{pixj}{781,1560}{PixJ}\B{pixl}{826,1560}{PixL}
\B{pixg}{911.8,1549.5}{PixG}\B{pixh}{911.8,1571.7}{PixH}
\draw[act] (pixl.east) -- (pixg.west);\draw[act] (pixl.east) -- (pixh.west);\PL{872,1543}\PL{872,1579}
\LT{lpp}{982,1563.3}{Positive phototactic motility}\draw[act] (pixg.east) -- (lpp.west);\draw[act] (pixh.east) -- (lpp.west);
\B{wspbd}{822,1603.7}{WspB/D}\B{wspa}{781,1622.3}{WspA}\B{wspe}{826,1622.3}{WspE}\B{wspc}{826,1655}{WspC}
\B{wspr}{911.8,1622.3}{WspR}\B{wspf}{911.8,1644.3}{WspF}
\draw[act] (wspe) -- (wspr);\draw[act] (wspe.east) -- (wspf.west);\PL{872,1616}\PL{872,1650}
\node[sig] (ccdg1) at (975,1622.3) {};\LT[center]{lcdg1}{976.7,1611}{c-di-GMP}
\draw[act] (wspr) -- (ccdg1);
\LT{leps}{1019,1622.3}{Extracellular polysaccharide production}\draw[act] (ccdg1) -- (leps);
\LT[east]{lsurf}{717,1622.3}{Surfaces or cell contact}\draw[act] (lsurf) -- (wspa);
\draw[act] (wspc.north west) -- ([xshift=5pt]wspa.south);
\draw[-{Bar[width=6pt]},rounded corners=4pt] (wspf.south) -- (911.8,1666) -- (780.7,1666) -- (780.7,1636);
\B{cph1}{781.6,1692.7}{Cph1}\B{rcp1}{870.4,1692.7}{Rcp1}\Ep{cph1}{rcp1}
\LT[east]{lred}{717,1692.7}{Red/Far-red light}\draw[act] (lred) -- (cph1);
\LT{lphy}{935.5,1696}{Phytocrome\\Growth and development}\draw[act] (rcp1.east) -- (lphy.west |- rcp1.east);
% ---------- Cell cycle ----------
\B{plec}{781.6,1772.7}{PleC}\B{pled}{870.4,1772.7}{PleD}
\B{divj}{781.6,1836.7}{DivJ}\B{divk}{870.4,1836.7}{DivK}
\B{ccka}{781.6,1888}{CckA}\B{chpt}{870.4,1888}{ChpT}\B{ctra}{961.8,1877.5}{CtrA}\B{cpdr}{961.8,1898.3}{CpdR}
\Ep{plec}{pled}
\draw[act] (divj.east) -- (pled.south west);
\coordinate (ccx) at (826,1778);\draw[act] (divk.north) -- (ccx);\PL{849,1789}
\draw[inh] (plec.east) -- (divk.north west);\PL[-p]{829,1821}
\draw[act] (divj) -- node[pl,below]{+p} (divk);
\draw[act,rounded corners=4pt] (divk.south) -- (870.4,1862) -- (781.6,1862) -- (divj.south);
\coordinate (ccl) at (781.6,1862);\draw[-{Bar[width=6pt]}] (ccl) -- (781.6,1872);
\Ep{ccka}{chpt}
\draw[act] (chpt.east) -- (ctra.west);\PL{912,1873}
\draw[inh] (chpt.east) -- (cpdr.west);\PL{912,1903}
\LT{lccp}{1030,1888}{Cell cycle progression}\draw[act] (ctra.east) -- (lccp.west);\draw[act] (cpdr.east) -- (lccp.west);
\node[sig] (ccdg2) at (933,1772.7) {};\LT[center]{lcdg2}{934,1760.7}{c-di-GMP}
\draw[act] (pled) -- (ccdg2);\LT{lpm}{979.5,1772.7}{Pole morphogenesis}\draw[act] (ccdg2) -- (lpm);
\LT{lccd}{935.5,1836.7}{Cell cycle progression and development}\draw[act] (divk) -- (lccd);
\node[mapbox] (mcc) at (1211.5,1838) {Cell cycle - \textit{Caulobacter}};
% ---------- Lux ----------
\LT{lai}{596,1956}{Autoinducer}
\B{luxp}{736.4,1974}{LuxP}\B{luxq}{781.4,1974}{LuxQ}
\node[sig] (cai2) at (678,1974) {};\LT[east]{cai2t}{674,1974}{AI-2}\draw[inh] (cai2) -- (luxp);
\B{cqss}{781.6,2006.7}{CqsS}\node[sig] (ccai) at (678,2006.7) {};\LT[east]{ccait}{674,2006.7}{CAI-1}\draw[inh] (ccai) -- (cqss);
\B{luxn}{781.6,2038}{LuxN}\node[sig] (cai1) at (678,2038) {};\LT[east]{cai1t}{674,2038}{AI-1/HAI-1}\draw[inh] (cai1) -- (luxn);
\node[jn] (jn2) at (843,2006.7) {};
\B{luxu}{870.4,2006.7}{LuxU}
\draw[act] (luxq.east) -- (jn2);\draw[act] (cqss) -- (jn2);\draw[act] (luxn.east) -- (jn2);
\PL{828,1983}\PL{828,2000}\PL{828,2014}
\draw (jn2) -- (luxu);
\B{luxo}{944.6,2006.7}{LuxO}\Ep{luxu}{luxo}
\B{qrr}{1019,2006.7}{Qrr}\Ee{luxo}{qrr}
\B{luxr}{1093.4,2006.7}{LuxR}\draw[inh] (qrr) -- (luxr);
\GR{lux}{1144.4}{2006.7}{47.2}{LuxC,LuxD,LuxA,LuxB,LuxE}\Ee{luxr}{lux1}
\LT[center]{lsrna}{1019,1986.7}{sRNAs}\LT[center]{lluc}{1198.5,1986.7}{Luciferase operon}
% ---------- LuxR ----------
\B{dcts2}{781.6,2126.3}{DctS}\SC{cc42}{721}{2126.3}{C4-Dicarboxyrate}{dcts2}
\B{dctr2}{870.4,2126.3}{DctR}\Ep{dcts2}{dctr2}
\GR{dctq}{929.2}{2126.3}{46}{DctP,DctQ,DctM}\Ee{dctr2}{dctq1}
\LT{lc42}{1071,2126.3}{C4-Dicarboxyrate transport}
\B{ttrs}{781.6,2158.3}{TtrS}\SC{ctt}{721}{2158.3}{Tetrathionate}{ttrs}
\B{ttrr}{870.4,2158.3}{TtrR}\Ep{ttrs}{ttrr}
\GR{ttr}{929.2}{2158.3}{46}{TtrA,TtrB,TtrC}\Ee{ttrr}{ttr1}
\LT{ltt}{1071,2158.3}{Tetrathionate respiration}
\B{fixl}{781.6,2199.3}{FixL}\SC{col}{721}{2199.3}{Oxygen limitation}{fixl}
\B{fixj}{870.4,2199.3}{FixJ}\Ep{fixl}{fixj}
\B{nifa2}{952,2188}{NifA}\B{fixk}{952,2210}{FixK}
\draw[act] (fixj.east) -- node[el]{e} (nifa2.west);\draw[act] (fixj.east) -- node[el]{e} (fixk.west);
\LT{lnif}{1006,2188}{nif genes}\LT{lfix}{1006,2210}{fix genes}\Ee{nifa2}{lnif}\Ee{fixk}{lfix}
\LT{lrnf}{1101,2198.3}{Respiration and nitrogen fixation}
\draw[act,dashed] (lnif.east) -- (lrnf.west);\draw[act,dashed] (lfix.east) -- (lrnf.west);
\B{ssra}{781.6,2251}{\cf{SsrA/SpiR}}\B{ssrb}{870.4,2251}{SsrB}\Ep{ssra}{ssrb}
\B{ssra2}{952,2239}{\cf{SsrA/SpiR}}\B{ssrb2}{1001.9,2239}{SsrB}
\LT{lspi}{932,2262.7}{SPI-2 genes}
\draw[act] (ssrb.east) -- node[el]{e} (ssra2.west);\draw[act] (ssrb.east) -- node[el]{e} (lspi.west);
\node[mapbox] (mbss) at (1076.7,2261.8) {Bacterial secretion system};
% ---------- Other ----------
\B{flra}{702.7,2345}{FlrA}\B{sig54a}{702.7,2368.7}{σ\textsuperscript{54}}
\B{flrb}{781.6,2356.3}{FlrB}\B{flrc}{870.4,2356.3}{FlrC}
\coordinate (flrout) at (726,2356.3);\draw[act] (flrout) -- node[el,pos=0.3]{e} (flrb);
\Ep{flrb}{flrc}
\LT{lc3}{932,2356.3}{Class III flagellar system genes}\Ee{flrc}{lc3}
\node[mapbox] (mfa2) at (1153.8,2357.2) {Flageller assembly};
\B[grn]{sln1}{781.6,2413.7}{Sln1}\ST{shyp2}{720}{2413.7}{Hyperosmotic stress}{sln1}
\B{ydp1}{870.4,2413.7}{Ydp1}\Ep{sln1}{ydp1}
\B[grn]{ssk1}{944.6,2396}{Ssk1}\B[grn]{skn7}{944.6,2429}{Skn7}\B{ssk2}{1019,2396}{Ssk2}
\draw[inh] (ydp1.east) -- (ssk1.west);\PL{906,2393}
\draw[act] (ydp1.east) -- (skn7.west);\PL{906,2437}
\Ep{ssk1}{ssk2}
\LT{los}{1073.5,2396}{Osmolyte synthesis}\draw[act] (ssk2) -- (los);
\node[mapbox] (mmapk) at (1231.5,2396.7) {MAPK signaling\\pathway - yeast};
\LT{lhs}{1002,2429}{Heat shock genes}\Ee{skn7}{lhs}
\B{rpfc}{781.6,2498.3}{RpfC}\node[sig] (cdsf) at (720,2498.3) {};
\node[lbl,anchor=east,align=center] (cdsft) at (715,2498.3) {Diffusible signaling factor\\(DSF)};
\draw[act] (cdsf) -- (rpfc);
\B{rpfg}{870.4,2481}{RpfG}\B{rpff}{870.4,2515.7}{RpfF}
\draw[act] (rpfc.east) -- (rpfg.west);\PL{829,2478}
\draw (rpfc.east) -- (rpff.west);\draw (826.5,2501) -- (826.5,2513);
\node[sig] (ccdg3) at (933,2470) {};\LT[center]{lcdg3}{934,2457.7}{c-di-GMP}
\draw[inh] (rpfg.east) -- (ccdg3.west);
\B{clp}{996.5,2470}{Clp}\B{sig54b}{996.5,2491}{σ\textsuperscript{54}}
\draw[inh] (ccdg3) -- (clp);
\draw[act,dashed] (rpfg.east) -- (sig54b.west);
\LT{lbio}{1049,2482.7}{Biofilm formation, motility, and virulence}
\coordinate (bioo) at (1020,2482.7);\draw[act,dashed] (bioo) -- (lbio);
\LT{ldsf}{935.5,2515.7}{DSF synthesis}\draw[act] (rpff) -- (ldsf);
\B{glnk}{781.6,2551.7}{GlnK}\SC{cgln}{721}{2551.7}{Glutamine}{glnk}
\B{glnl2}{870.4,2551.7}{GlnL}\Ep{glnk}{glnl2}
\B{glsa}{952,2551.7}{GlsA}\B{glnt}{1000.7,2551.7}{GlnT}\Ee{glnl2}{glsa}
\LT{lgu}{1034,2551.7}{Glutamine utilization}
\B{yesm}{781.6,2588.3}{YesM}\B{yesn}{870.4,2588.3}{YesN}\draw[act] (yesm) -- node[pl]{+p?} (yesn);
\B{cika}{781.6,2620.7}{CikA}\LT{lcg}{851,2620.7}{Circadian genes}\draw[act] (cika) -- (lcg);
\B{regb}{781.6,2687.7}{RegB}\ST{sredox}{720}{2687.7}{Redox signal}{regb}
\B{rega}{870.4,2687.7}{RegA}\Ep{regb}{rega}
\GR{puc}{929.8}{2645}{47.6}{Puc,Puf,Puh}\LT{lps}{1078,2645}{Photosystem}
\GR[grn]{pet}{929.8}{2673.7}{46}{PetA,PetB,PetC,CycA/Y}
\LT{let}{1124,2673.7}{Electron transfer system}
\node[mapbox] (mop) at (1326.3,2679.8) {Oxidative phosphorylation};
\GR{cco}{929.8}{2702.7}{46.3}{CcoN,CcoO,CcoQ,CcoP,CydA,CydB}
\LT{lar}{1210,2702.7}{Aerobic respiration}
\B{nifa3}{951.8,2730.3}{NifA}\LT{lna3}{984,2730.3}{Nitrogen assimilation}
\draw[act] (rega.east) -- node[el]{e} (puc1.west);
\draw[act] (rega.east) -- node[el]{e} (pet1.west);
\draw[act] (rega.east) -- node[el]{e} (cco1.west);
\draw[act] (rega.east) -- node[el]{e} (nifa3.west);
% ---------- footer ----------
\LT{ft}{5,2777}{02020 2/13/12\\(c) Kanehisa Laboratories}
\end{tikzpicture}
\end{document}
